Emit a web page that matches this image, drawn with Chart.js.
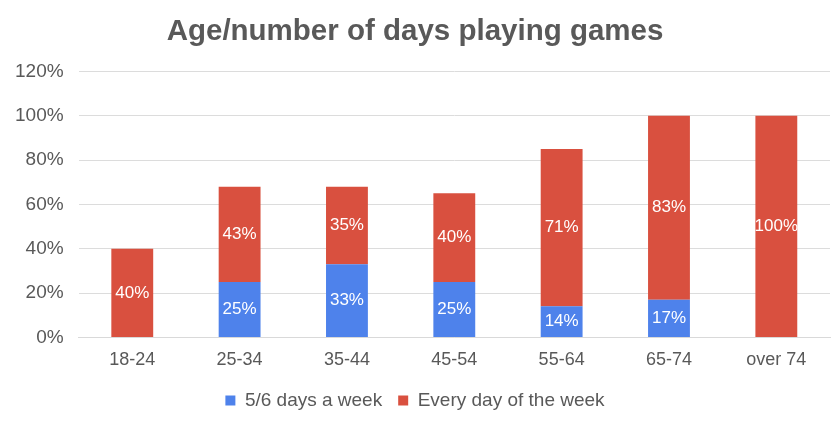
<!DOCTYPE html>
<html>
<head>
<meta charset="utf-8">
<script src="https://cdn.jsdelivr.net/npm/chart.js@4/dist/chart.umd.min.js"></script>
<style>
  html, body { margin: 0; padding: 0; background: #fff; }
  #wrap { width: 840px; height: 428px; }
</style>
</head>
<body>
<div id="wrap"><canvas id="chart" width="840" height="428"></canvas></div>
<script>
// Age groups and share of players per group
const ageGroups = ['18-24', '25-34', '35-44', '45-54', '55-64', '65-74', 'over 74'];
const fiveSixDays = [0, 25, 33, 25, 14, 17, 0];
const everyDay = [40, 43, 35, 40, 71, 83, 100];
const yTicks = [0, 20, 40, 60, 80, 100, 120];

const FONT = '"Liberation Sans", Arial, sans-serif';

// Draws the white percentage labels in the middle of each bar segment
const barLabels = {
    id: 'barLabels',
    afterDatasetsDraw(chart) {
        const ctx = chart.ctx;
        ctx.save();
        ctx.font = '17px ' + FONT;
        ctx.fillStyle = '#ffffff';
        ctx.textAlign = 'center';
        ctx.textBaseline = 'middle';
        chart.data.datasets.forEach((ds, i) => {
            const meta = chart.getDatasetMeta(i);
            meta.data.forEach((bar, j) => {
                const v = ds.data[j];
                if (!v) return;
                const mid = (bar.y + bar.base) / 2;
                ctx.fillText(v + '%', bar.x, mid);
            });
        });
        ctx.restore();
    }
};

new Chart(document.getElementById('chart'), {
    type: 'bar',
    data: {
        labels: ageGroups,
        datasets: [
            {
                label: '5/6 days a week',
                data: fiveSixDays,
                backgroundColor: '#4e82eb'
            },
            {
                label: 'Every day of the week',
                data: everyDay,
                backgroundColor: '#d9503f'
            }
        ]
    },
    options: {
        responsive: false,
        animation: false,
        layout: { padding: { left: 0, right: 10, top: 4, bottom: 8 } },
        datasets: { bar: { categoryPercentage: 1, barPercentage: 0.39 } },
        plugins: {
            title: {
                display: true,
                text: 'Age/number of days playing games',
                color: '#595959',
                font: { family: FONT, size: 29.5, weight: 'bold' },
                padding: { top: 10, bottom: 22 }
            },
            legend: {
                position: 'bottom',
                labels: {
                    color: '#595959',
                    font: { family: FONT, size: 19 },
                    boxWidth: 10,
                    boxHeight: 10,
                    padding: 16
                }
            },
            tooltip: { enabled: false }
        },
        scales: {
            x: {
                stacked: true,
                grid: { display: false },
                border: { color: '#d9d9d9' },
                ticks: {
                    color: '#595959',
                    font: { family: FONT, size: 18 },
                    padding: 4
                }
            },
            y: {
                stacked: true,
                min: 0,
                max: 120,
                afterBuildTicks(axis) {
                    axis.ticks = yTicks.map(v => ({ value: v }));
                },
                grid: { color: '#dcdcdc', drawTicks: false },
                border: { display: false },
                ticks: {
                    color: '#595959',
                    font: { family: FONT, size: 19 },
                    padding: 15,
                    callback: v => v + '%'
                }
            }
        }
    },
    plugins: [barLabels]
});
</script>
</body>
</html>
